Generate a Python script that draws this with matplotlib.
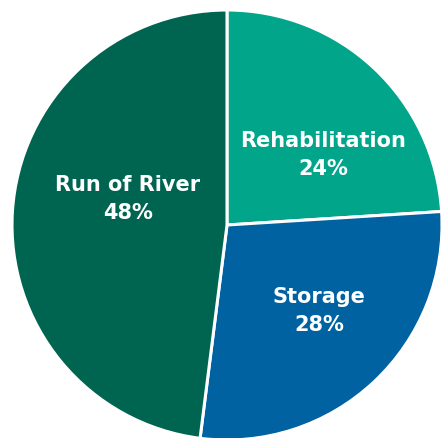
import matplotlib.pyplot as plt

# -------------------------------
# Data
# -------------------------------
categories = ['Rehabilitation', 'Storage', 'Run of River']
shares = [24, 28, 48]
colors = ['#00A58A', '#0062A0', '#006550']

# label anchor points in pixel coords of the figure (x from left, y from top)
label_pos = [(323, 155), (319, 311), (128, 199)]

W, H = 441, 438
cx, cy, radius = 227, 225, 215

fig = plt.figure(figsize=(W / 100, H / 100), dpi=100)
ax = fig.add_axes([0, 0, 1, 1])

ax.pie(shares, colors=colors, startangle=90, counterclock=False,
       radius=radius, center=(cx, H - cy), frame=True,
       wedgeprops=dict(edgecolor='white', linewidth=2.2))
ax.set_xlim(0, W)
ax.set_ylim(0, H)
ax.set_aspect('equal')
ax.axis('off')

for name, pct, (px, py) in zip(categories, shares, label_pos):
    ax.text(px, H - py, f"{name}\n{pct}%", ha='center', va='center',
            color='white', fontsize=15, fontweight='bold',
            linespacing=1.45)

fig.savefig('out.png', dpi=100)
